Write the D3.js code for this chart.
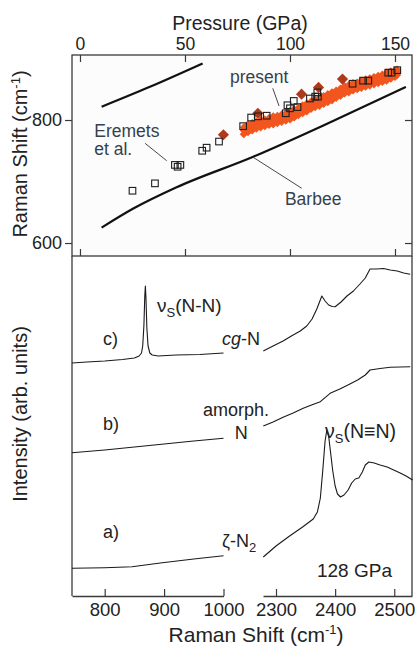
<!DOCTYPE html>
<html>
<head>
<meta charset="utf-8">
<script src="https://d3js.org/d3.v7.min.js"></script>
<style>
  body { margin: 0; background: #fff; }
  svg { display: block; font-family: "Liberation Sans", Arial, sans-serif; }
</style>
</head>
<body>
<div id="chart"></div>
<script>
// ---------- top panel: Raman shift vs pressure ----------
var barbeeUpperP = [10.3, 33.3, 58.4];
var barbeeUpperR = [821.6, 854, 892];
var barbeeLowerP = [10.3, 25.4, 46, 82.5, 120.5, 155.2];
var barbeeLowerR = [625, 656, 690.6, 740.3, 798.4, 853.7];

// Eremets et al. (open squares)
var eremetsP = [25, 35.7, 45.2, 47.8, 46.5, 58.2, 60.3, 66.2, 77.7, 81.5, 84.8, 88.9, 98, 98.8, 100, 101.8, 103.6, 109.5, 112, 113, 113.3, 129.8, 134.8, 137.3, 146.8, 148.4, 151.1];
var eremetsR = [685, 697, 727, 727, 724, 750, 755, 765, 790, 804, 806, 807, 811, 824, 819, 831, 821, 835, 838, 845, 838, 859, 864, 864, 877, 877, 881];

// present work, dark diamonds
var presentDarkP = [68.3, 84.7, 105.5, 113.6, 125];
var presentDarkR = [776, 811, 842, 853, 866.5];

// present work, dense orange band (upper / middle / lower rows)
var bandP   = [78, 80, 82, 84, 86, 88, 90, 92, 94, 96, 98, 100, 102, 104, 106, 108, 110, 112, 114, 116, 118, 120, 122, 124, 126, 128, 130, 132, 134, 136, 138, 140, 142, 144, 146, 148, 150, 151];
var bandHi  = [788, 793, 795, 797, 800, 801, 803, 806, 807, 809, 811, 815, 817, 820, 824, 827, 830, 833, 836, 839, 842, 845, 848, 851, 855, 857, 860, 861, 864, 866, 868, 870, 872, 874, 877, 879, 881, 882];
var bandMid = [783, 786, 789, 791, 794, 796, 797, 799, 800, 803, 805, 808, 810, 814, 817, 821, 824, 827, 829, 832, 835, 838, 842, 845, 849, 851, 854, 856, 858, 860, 862, 864, 866, 868, 870, 873, 876, 878];
var bandLo  = [777, 780, 783, 786, 788, 790, 792, 793, 795, 797, 799, 801, 804, 808, 811, 814, 818, 821, 823, 826, 829, 832, 836, 839, 843, 845, 848, 850, 852, 854, 856, 858, 860, 862, 864, 867, 870, 873];

var pressureTicks = [0, 50, 100, 150];
var ramanTicks = [600, 800];

// ---------- bottom panel: spectra at 128 GPa ----------
var lowTicks = [800, 900, 1000];
var highTicks = [2300, 2400, 2500];

// c) cg-N
var cgLowShift = [745, 770, 800, 830, 850, 858, 862, 864, 866, 867.5, 868.5, 869.5, 871, 873, 876, 880, 890, 920, 960, 1000];
var cgLowInt   = [233, 234, 235, 236.5, 238, 240, 243, 250, 270, 300, 310, 298, 268, 250, 243, 241, 240, 241, 241.5, 243];
var cgHighShift = [2278.5, 2295, 2312, 2326, 2341, 2352, 2361, 2369, 2377.5, 2383, 2389, 2395, 2400, 2410, 2420, 2431, 2442, 2451, 2459, 2470, 2482, 2493, 2505, 2516, 2527];
var cgHighInt   = [245, 250, 255, 260, 265, 270, 277, 287, 300, 295, 291, 289.5, 289.3, 294, 300, 305, 312, 318, 327, 327, 327.5, 326, 325, 323, 321.7];

// b) amorphous N
var amLowShift = [745, 800, 850, 900, 950, 1000];
var amLowInt   = [143.3, 146, 149, 152, 155, 157.7];
var amHighShift = [2278.5, 2295, 2312, 2329, 2346, 2360, 2375, 2391.5, 2408, 2425, 2438, 2451, 2459, 2476, 2493, 2510, 2527];
var amHighInt   = [170, 174, 178.7, 183, 187.7, 191, 194.3, 202.7, 207, 212, 216, 221, 226, 227.5, 228.7, 229, 229.3];

// a) zeta-N2
var zetaLowShift = [745, 800, 846, 897, 950, 1000];
var zetaLowInt   = [27.7, 28.3, 29.3, 33.3, 37, 40.3];
var zetaHighShift = [2278.5, 2300, 2323, 2345, 2363, 2370, 2375, 2379, 2383, 2386, 2389, 2392, 2396, 2400, 2404, 2409, 2415, 2422, 2428, 2434, 2440, 2446, 2451, 2457, 2466, 2476, 2488, 2499, 2510, 2520, 2531];
var zetaHighInt   = [39, 50, 60, 69, 77, 84, 98, 125, 155, 166, 160, 145, 125, 110, 102, 99, 101, 106, 113, 117, 118, 124, 131, 134, 133, 131, 129, 126, 123, 120, 116];

// ---------- layout ----------
var W = 415, H = 646;
var left = 72, right = 412, topY = 55, midY = 256, botY = 596;

var svg = d3.select("#chart").append("svg")
    .attr("width", W)
    .attr("height", H);

var ink = "#222";
var frameCol = "#3a3a3a";

// scales
var xP = d3.scaleLinear().domain([-3.8, 158.1]).range([left, right]);
var yR = d3.scaleLinear().domain([578.9, 905.7]).range([midY, topY]);
var xLow = d3.scaleLinear().domain([745, 1000]).range([left, 223.5]);
var xHigh = d3.scaleLinear().domain([2278, 2530]).range([263, right]);
var yI = d3.scaleLinear().domain([0, 340]).range([botY, midY]);

function zip(a, b) { return a.map(function(v, i) { return [v, b[i]]; }); }

// ---------- top panel ----------
var topG = svg.append("g");

topG.append("rect")
    .attr("x", left).attr("y", topY)
    .attr("width", right - left).attr("height", midY - topY)
    .attr("fill", "#fcfcfc")
    .attr("stroke", frameCol).attr("stroke-width", 1.3);

var topAxis = topG.append("g")
    .attr("transform", "translate(0," + topY + ")")
    .call(d3.axisTop(xP).tickValues(pressureTicks).tickSizeInner(-7).tickSizeOuter(0).tickPadding(5));
topAxis.selectAll("text").attr("font-size", 17.5).attr("fill", ink);

var midAxis = topG.append("g")
    .attr("transform", "translate(0," + midY + ")")
    .call(d3.axisBottom(xP).tickValues(pressureTicks).tickSizeInner(-7).tickSizeOuter(0).tickFormat(""));

var leftAxis = topG.append("g")
    .attr("transform", "translate(" + left + ",0)")
    .call(d3.axisLeft(yR).tickValues(ramanTicks).tickSizeInner(7).tickSizeOuter(0).tickPadding(3));
leftAxis.selectAll("text").attr("font-size", 18).attr("fill", ink);

var rightAxis = topG.append("g")
    .attr("transform", "translate(" + right + ",0)")
    .call(d3.axisRight(yR).tickValues(ramanTicks).tickSizeInner(-7).tickSizeOuter(0).tickFormat(""));

[topAxis, midAxis, leftAxis, rightAxis].forEach(function(a) {
  a.attr("font-family", null);
  a.select(".domain").remove();
  a.selectAll("line").attr("stroke", frameCol).attr("stroke-width", 1.2);
});

var line = d3.line().curve(d3.curveMonotoneX)
    .x(function(d) { return xP(d[0]); })
    .y(function(d) { return yR(d[1]); });

topG.append("path")
    .datum(zip(barbeeUpperP, barbeeUpperR))
    .attr("d", line)
    .attr("fill", "none").attr("stroke", "#111").attr("stroke-width", 2.2);

topG.append("path")
    .datum(zip(barbeeLowerP, barbeeLowerR))
    .attr("d", line)
    .attr("fill", "none").attr("stroke", "#111").attr("stroke-width", 2.2);

// orange band
var bandPts = zip(bandP, bandHi).concat(zip(bandP, bandMid), zip(bandP, bandLo));
topG.append("g").selectAll("path")
    .data(bandPts)
  .enter().append("path")
    .attr("transform", function(d) { return "translate(" + xP(d[0]) + "," + yR(d[1]) + ")"; })
    .attr("d", d3.symbol().type(d3.symbolDiamond2).size(42)())
    .attr("fill", "#f2561f");

// dark diamonds
topG.append("g").selectAll("path")
    .data(zip(presentDarkP, presentDarkR))
  .enter().append("path")
    .attr("transform", function(d) { return "translate(" + xP(d[0]) + "," + yR(d[1]) + ")"; })
    .attr("d", d3.symbol().type(d3.symbolDiamond2).size(80)())
    .attr("fill", "#ad3a1c");

// open squares
topG.append("g").selectAll("rect")
    .data(zip(eremetsP, eremetsR))
  .enter().append("rect")
    .attr("x", function(d) { return xP(d[0]) - 3.3; })
    .attr("y", function(d) { return yR(d[1]) - 3.3; })
    .attr("width", 6.6).attr("height", 6.6)
    .attr("fill", "none").attr("stroke", "#1e1e1e").attr("stroke-width", 1.1);

// annotations
var noteCol = "#37414c";
function note(txt, p, r) {
  topG.append("text").attr("x", xP(p)).attr("y", yR(r))
      .attr("font-size", 17.5).attr("fill", noteCol).text(txt);
}
function pointer(p1, r1, p2, r2) {
  topG.append("line")
      .attr("x1", xP(p1)).attr("y1", yR(r1)).attr("x2", xP(p2)).attr("y2", yR(r2))
      .attr("stroke", "#333").attr("stroke-width", 0.9);
}
note("present", 71.4, 859.7);
pointer(91.8, 851.5, 94.8, 822.8);
note("Eremets", 6.8, 772.8);
note("et al.", 6.8, 743.1);
pointer(31, 762.1, 41.3, 733.8);
note("Barbee", 97.6, 661.8);
pointer(82.5, 739.3, 105.6, 689);

// titles
svg.append("text").attr("x", 240).attr("y", 30)
    .attr("text-anchor", "middle").attr("font-size", 19.5).attr("fill", ink)
    .text("Pressure (GPa)");

var yt = svg.append("text")
    .attr("transform", "translate(27,154) rotate(-90)")
    .attr("text-anchor", "middle").attr("font-size", 20).attr("fill", ink);
yt.append("tspan").text("Raman Shift (cm");
yt.append("tspan").attr("font-size", 13).attr("dy", -7).text("-1");
yt.append("tspan").attr("dy", 7).text(")");

// ---------- bottom panel ----------
var bot = svg.append("g");

bot.append("line").attr("x1", left).attr("x2", left).attr("y1", midY).attr("y2", botY)
    .attr("stroke", frameCol).attr("stroke-width", 1.3);
bot.append("line").attr("x1", right).attr("x2", right).attr("y1", midY).attr("y2", botY)
    .attr("stroke", frameCol).attr("stroke-width", 1.3);

var lowAxis = bot.append("g")
    .attr("transform", "translate(0," + botY + ")")
    .call(d3.axisBottom(xLow).tickValues(lowTicks).tickFormat(d3.format("d"))
      .tickSizeInner(-7).tickSizeOuter(0).tickPadding(7));
var highAxis = bot.append("g")
    .attr("transform", "translate(0," + botY + ")")
    .call(d3.axisBottom(xHigh).tickValues(highTicks).tickFormat(d3.format("d"))
      .tickSizeInner(-7).tickSizeOuter(0).tickPadding(7));
[lowAxis, highAxis].forEach(function(a) {
  a.attr("font-family", null);
  a.select(".domain").attr("stroke", frameCol).attr("stroke-width", 1.3);
  a.selectAll("line").attr("stroke", frameCol).attr("stroke-width", 1.2);
  a.selectAll("text").attr("font-size", 18.5).attr("fill", ink);
});

var specLow = d3.line()
    .x(function(d) { return xLow(d[0]); })
    .y(function(d) { return yI(d[1]); });
var specHigh = d3.line()
    .x(function(d) { return xHigh(d[0]); })
    .y(function(d) { return yI(d[1]); });

var spectra = [
  [specLow, cgLowShift, cgLowInt], [specHigh, cgHighShift, cgHighInt],
  [specLow, amLowShift, amLowInt], [specHigh, amHighShift, amHighInt],
  [specLow, zetaLowShift, zetaLowInt], [specHigh, zetaHighShift, zetaHighInt]
];
spectra.forEach(function(s) {
  bot.append("path")
      .datum(zip(s[1], s[2]))
      .attr("d", s[0])
      .attr("fill", "none").attr("stroke", "#1a1a1a").attr("stroke-width", 1.1)
      .attr("stroke-linejoin", "round");
});

// labels in the spectra panel
function lab(x, y, size) {
  return bot.append("text").attr("x", x).attr("y", y)
      .attr("font-size", size || 18).attr("fill", ink);
}
lab(xLow(797), yI(251)).text("c)");
lab(xLow(797), yI(166)).text("b)");
lab(xLow(797), yI(58)).text("a)");

var nu1 = lab(xLow(888), yI(284), 19);
nu1.append("tspan").text("\u03bd");
nu1.append("tspan").attr("font-size", 13).attr("dy", 5).text("S");
nu1.append("tspan").attr("dy", -5).text("(N-N)");

var cg = lab(xLow(997.5), yI(251));
cg.append("tspan").attr("font-style", "italic").text("cg");
cg.append("tspan").text("-N");

lab(xLow(965.5), yI(180)).text("amorph.");
lab(xLow(1019), yI(157)).text("N");

var zeta = lab(xLow(997.5), yI(49));
zeta.append("tspan").text("\u03b6-N");
zeta.append("tspan").attr("font-size", 13).attr("dy", 5).text("2");

var nu2 = lab(xHigh(2382.9), yI(158), 19.5);
nu2.append("tspan").text("\u03bd");
nu2.append("tspan").attr("font-size", 13).attr("dy", 5).text("S");
nu2.append("tspan").attr("dy", -5).text("(N\u2261N)");

lab(xHigh(2369.3), yI(19), 19).text("128 GPa");

// titles
var xt = svg.append("text")
    .attr("x", 256).attr("y", 642)
    .attr("text-anchor", "middle").attr("font-size", 21).attr("fill", ink);
xt.append("tspan").text("Raman Shift (cm");
xt.append("tspan").attr("font-size", 13).attr("dy", -8).text("-1");
xt.append("tspan").attr("dy", 8).text(")");

svg.append("text")
    .attr("transform", "translate(27,414) rotate(-90)")
    .attr("text-anchor", "middle").attr("font-size", 20).attr("fill", ink)
    .text("Intensity (arb. units)");
</script>
</body>
</html>
